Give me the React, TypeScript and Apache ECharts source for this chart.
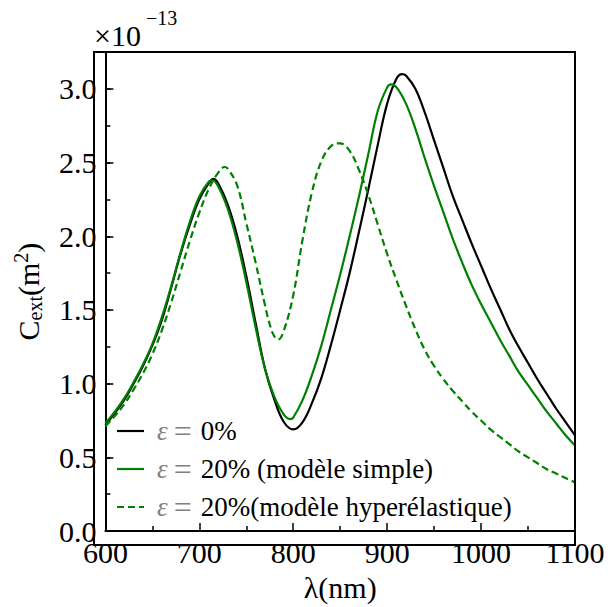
import React, { useEffect, useRef } from "react";
import * as echarts from "echarts";

const FONT = "Liberation Serif";

// wavelength (nm) and C_ext (x1e-13 m^2)
const lambda0 = [600, 610, 620, 630, 640, 650, 660, 670, 680, 690, 700, 710, 715, 720, 730, 740, 750, 760, 770, 780, 790, 800, 810, 820, 830, 840, 850, 860, 870, 880, 890, 900, 910, 916, 920, 930, 940, 950, 960, 970, 980, 990, 1000, 1010, 1020, 1030, 1040, 1050, 1060, 1070, 1080, 1090, 1100];
const cext0 = [0.72, 0.80, 0.89, 1.00, 1.12, 1.26, 1.43, 1.65, 1.88, 2.08, 2.25, 2.36, 2.39, 2.36, 2.22, 2.01, 1.73, 1.41, 1.10, 0.89, 0.74, 0.69, 0.74, 0.87, 1.04, 1.26, 1.50, 1.75, 2.03, 2.32, 2.62, 2.90, 3.07, 3.10, 3.09, 3.00, 2.84, 2.65, 2.46, 2.27, 2.11, 1.95, 1.80, 1.65, 1.51, 1.37, 1.25, 1.14, 1.03, 0.93, 0.83, 0.74, 0.65];

const lambda20 = [600, 610, 620, 630, 640, 650, 660, 670, 680, 690, 700, 710, 714, 720, 730, 740, 750, 760, 770, 780, 790, 797, 800, 810, 820, 830, 840, 850, 860, 870, 880, 890, 900, 904, 910, 920, 930, 940, 950, 960, 970, 980, 990, 1000, 1010, 1020, 1030, 1040, 1050, 1060, 1070, 1080, 1090, 1100];
const cext20 = [0.73, 0.81, 0.90, 1.01, 1.13, 1.27, 1.45, 1.66, 1.89, 2.10, 2.27, 2.37, 2.38, 2.34, 2.19, 1.97, 1.69, 1.38, 1.10, 0.91, 0.79, 0.76, 0.77, 0.89, 1.06, 1.26, 1.50, 1.74, 2.00, 2.27, 2.56, 2.85, 3.01, 3.03, 3.01, 2.90, 2.73, 2.53, 2.34, 2.16, 1.98, 1.82, 1.67, 1.54, 1.42, 1.30, 1.19, 1.08, 0.99, 0.90, 0.81, 0.73, 0.65, 0.58];

const lambdaHyper = [600, 610, 620, 630, 640, 650, 660, 670, 680, 690, 700, 710, 720, 727, 730, 740, 750, 760, 770, 776, 780, 784, 790, 800, 810, 820, 830, 840, 848, 850, 860, 870, 880, 890, 900, 910, 920, 930, 940, 950, 960, 970, 980, 990, 1000, 1010, 1020, 1030, 1040, 1050, 1060, 1070, 1080, 1090, 1100];
const cextHyper = [0.71, 0.78, 0.86, 0.96, 1.07, 1.20, 1.36, 1.55, 1.76, 1.97, 2.16, 2.32, 2.43, 2.47, 2.46, 2.35, 2.09, 1.82, 1.53, 1.38, 1.32, 1.30, 1.36, 1.60, 1.98, 2.30, 2.51, 2.61, 2.63, 2.63, 2.58, 2.45, 2.28, 2.08, 1.88, 1.70, 1.53, 1.37, 1.23, 1.12, 1.03, 0.95, 0.88, 0.81, 0.75, 0.69, 0.64, 0.59, 0.54, 0.50, 0.46, 0.42, 0.39, 0.36, 0.33];

const seriesNames = ["ε = 0%", "ε = 20% (modèle simple)", "ε = 20%(modèle hyperélastique)"];
const seriesColors = ["#000000", "#008000", "#008000"];
const seriesDashed = [false, false, true];
const xTicks = [600, 700, 800, 900, 1000, 1100];
const yTicks = [0, 0.5, 1.0, 1.5, 2.0, 2.5, 3.0];

const pairs = (xs: number[], ys: number[]) => xs.map((x, i) => [x, ys[i]]);

export default function App() {
  const ref = useRef<HTMLDivElement>(null);
  useEffect(() => {
    if (!ref.current) return;
    const chart = echarts.init(ref.current, undefined, { renderer: "svg" });
    const lineCommon = {
      type: "line" as const,
      showSymbol: false,
      symbol: "none",
      smooth: 0.4,
      clip: true,
    };

    // legend drawn as graphic elements (line sample + rich text)
    const legendRich = {
      e: { fontFamily: FONT, fontStyle: "italic", fontSize: 27, fill: "#808080" },
      q: { fontFamily: FONT, fontSize: 32, fill: "#808080", padding: [0, 9, 0, 6] },
      t: { fontFamily: FONT, fontSize: 27, fill: "#000" },
    };
    const legendGraphics: any[] = [];
    seriesNames.forEach((name, i) => {
      const cy = 431 + i * 38;
      legendGraphics.push({
        type: "line",
        shape: { x1: 117, y1: cy, x2: 144, y2: cy },
        style: {
          stroke: seriesColors[i],
          lineWidth: 2.2,
          lineDash: seriesDashed[i] ? [7, 4] : null,
        },
        silent: true,
      });
      legendGraphics.push({
        type: "text",
        x: 157,
        y: cy,
        style: {
          text: "{e|ε}{q|=}{t|" + name.replace("ε = ", "") + "}",
          rich: legendRich,
          fontFamily: FONT,
          fontSize: 27,
          verticalAlign: "middle",
          align: "left",
        },
        silent: true,
      });
    });

    chart.setOption({
      animation: false,
      backgroundColor: "#ffffff",
      grid: { left: 94, right: 33, top: 52, bottom: 62, containLabel: false },
      xAxis: {
        type: "value",
        min: 600,
        max: 1100,
        interval: 100,
        name: "λ(nm)",
        nameLocation: "middle",
        nameGap: 37,
        nameTextStyle: { fontFamily: FONT, fontSize: 30, color: "#000" },
        axisLine: { show: true, onZero: false, lineStyle: { color: "#000", width: 2 } },
        axisTick: { show: true, inside: true, length: 8, lineStyle: { color: "#000", width: 1.5 } },
        minorTick: { show: true, splitNumber: 2, length: 5, lineStyle: { color: "#000", width: 1.5 } },
        axisLabel: {
          fontFamily: FONT,
          fontSize: 30,
          color: "#000",
          margin: 6,
          formatter: (v: number) => (xTicks.includes(v) ? String(v) : ""),
        },
        splitLine: { show: false },
      },
      yAxis: [
        {
          type: "value",
          min: 0,
          max: 3.25,
          interval: 0.25,
          name: "{c|C}{s|ext}{c|(m}{p|2}{c|)}",
          nameLocation: "middle",
          nameGap: 50,
          nameRotate: 90,
          nameTextStyle: {
            fontFamily: FONT,
            fontSize: 30,
            color: "#000",
            rich: {
              c: { fontFamily: FONT, fontSize: 30, color: "#000", lineHeight: 40, verticalAlign: "middle" },
              s: { fontFamily: FONT, fontSize: 20, color: "#000", lineHeight: 40, verticalAlign: "bottom", padding: [0, 0, 3, 0] },
              p: { fontFamily: FONT, fontSize: 20, color: "#000", lineHeight: 40, verticalAlign: "top", padding: [3, 0, 0, 0] },
            },
          },
          axisLine: { show: true, onZero: false, lineStyle: { color: "#000", width: 2 } },
          axisTick: { show: true, inside: true, length: 5, lineStyle: { color: "#000", width: 1.5 } },
          axisLabel: {
            fontFamily: FONT,
            fontSize: 30,
            color: "#000",
            margin: 9,
            showMaxLabel: false,
            formatter: (v: number) => {
              const hit = yTicks.find((t) => Math.abs(t - v) < 1e-6);
              return hit === undefined ? "" : hit.toFixed(1);
            },
          },
          splitLine: { show: false },
        },
        {
          type: "value",
          min: 0,
          max: 3.25,
          interval: 0.5,
          position: "left",
          axisLine: { show: false },
          axisTick: { show: true, inside: true, length: 8, lineStyle: { color: "#000", width: 1.5 } },
          axisLabel: { show: false },
          splitLine: { show: false },
        },
      ],
      graphic: [
        {
          type: "rect",
          shape: { x: 94, y: 52, width: 481, height: 493 },
          style: { fill: "none", stroke: "#000", lineWidth: 2 },
          silent: true,
          z: 100,
        },
        {
          type: "text",
          x: 94,
          y: 35,
          style: { text: "×10", fontFamily: FONT, fontSize: 30, fill: "#000", verticalAlign: "middle", align: "left" },
        },
        {
          type: "text",
          x: 146,
          y: 18,
          style: { text: "−13", fontFamily: FONT, fontSize: 20, fill: "#000", verticalAlign: "middle", align: "left" },
        },
        ...legendGraphics,
      ],
      series: seriesNames.map((name, i) => ({
        ...lineCommon,
        name,
        data: i === 0 ? pairs(lambda0, cext0) : i === 1 ? pairs(lambda20, cext20) : pairs(lambdaHyper, cextHyper),
        lineStyle: { color: seriesColors[i], width: 2.2, type: seriesDashed[i] ? [7, 4] : "solid" },
        itemStyle: { color: seriesColors[i] },
        z: 3 + i,
      })),
    });
    return () => chart.dispose();
  }, []);
  return (
    <div
      ref={ref}
      style={{ position: "fixed", left: 0, top: 0, width: 608, height: 607, background: "#fff" }}
    />
  );
}
